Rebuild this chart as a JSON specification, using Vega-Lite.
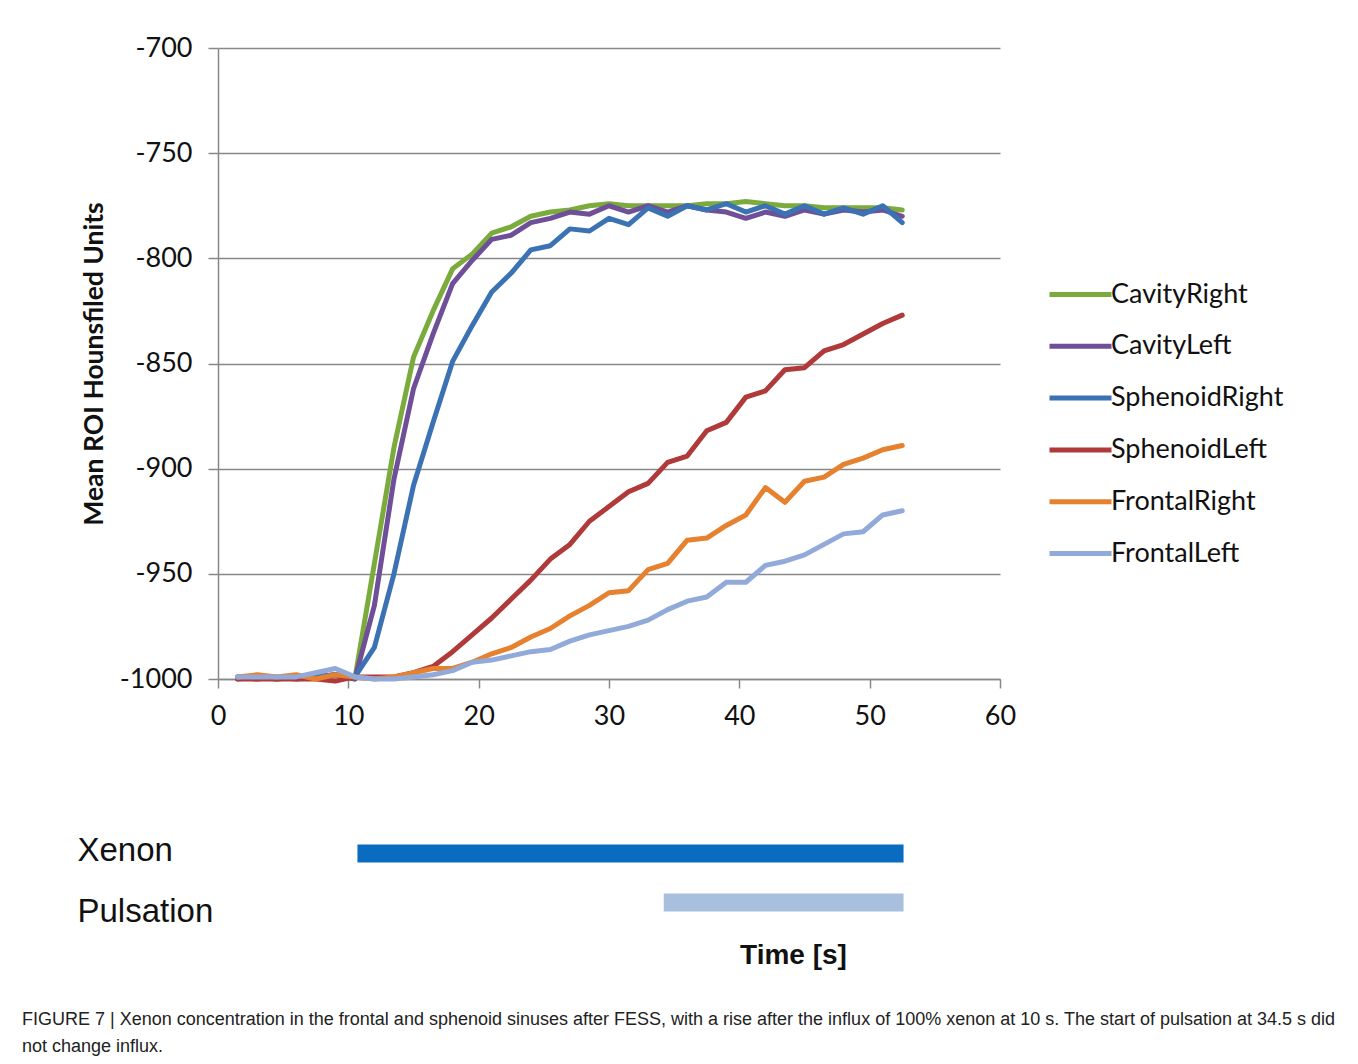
{
  "$schema": "https://vega.github.io/schema/vega-lite/v6.json",
  "background": "white",
  "padding": {"left": 22, "top": 34, "right": 10, "bottom": 10},
  "config": {"view": {"stroke": null}, "font": "Lato"},
  "title": {
    "text": ["FIGURE 7 | Xenon concentration in the frontal and sphenoid sinuses after FESS, with a rise after the influx of 100% xenon at 10 s. The start of pulsation at 34.5 s did", "not change influx."],
    "orient": "bottom",
    "anchor": "start",
    "frame": "bounds",
    "font": "Liberation Sans",
    "fontSize": 18,
    "fontWeight": "normal",
    "color": "#222222",
    "lineHeight": 27,
    "offset": 42,
    "dx": -55
  },
  "bounds": "flush",
  "spacing": 150,
  "resolve": {"scale": {"color": "independent"}, "legend": {"color": "independent"}},
  "vconcat": [
    {
      "width": 782,
      "height": 631,
      "data": {
        "values": [
          {"t": 1.5, "CavityRight": -999, "CavityLeft": -999, "SphenoidRight": -1000, "SphenoidLeft": -1000, "FrontalRight": -999, "FrontalLeft": -999},
          {"t": 3, "CavityRight": -999, "CavityLeft": -1000, "SphenoidRight": -999, "SphenoidLeft": -1000, "FrontalRight": -998, "FrontalLeft": -999},
          {"t": 4.5, "CavityRight": -1000, "CavityLeft": -999, "SphenoidRight": -1000, "SphenoidLeft": -1000, "FrontalRight": -999, "FrontalLeft": -999},
          {"t": 6, "CavityRight": -999, "CavityLeft": -1000, "SphenoidRight": -999, "SphenoidLeft": -1000, "FrontalRight": -998, "FrontalLeft": -999},
          {"t": 7.5, "CavityRight": -999, "CavityLeft": -999, "SphenoidRight": -999, "SphenoidLeft": -1000, "FrontalRight": -1000, "FrontalLeft": -997},
          {"t": 9, "CavityRight": -998, "CavityLeft": -998, "SphenoidRight": -998, "SphenoidLeft": -1001, "FrontalRight": -998, "FrontalLeft": -995},
          {"t": 10.5, "CavityRight": -1000, "CavityLeft": -1000, "SphenoidRight": -999, "SphenoidLeft": -999, "FrontalRight": -999, "FrontalLeft": -999},
          {"t": 12, "CavityRight": -945, "CavityLeft": -965, "SphenoidRight": -985, "SphenoidLeft": -999, "FrontalRight": -1000, "FrontalLeft": -1000},
          {"t": 13.5, "CavityRight": -890, "CavityLeft": -905, "SphenoidRight": -950, "SphenoidLeft": -999, "FrontalRight": -999, "FrontalLeft": -1000},
          {"t": 15, "CavityRight": -847, "CavityLeft": -862, "SphenoidRight": -908, "SphenoidLeft": -997, "FrontalRight": -997, "FrontalLeft": -999},
          {"t": 16.5, "CavityRight": -825, "CavityLeft": -836, "SphenoidRight": -878, "SphenoidLeft": -994, "FrontalRight": -995, "FrontalLeft": -998},
          {"t": 18, "CavityRight": -805, "CavityLeft": -812, "SphenoidRight": -849, "SphenoidLeft": -987, "FrontalRight": -995, "FrontalLeft": -996},
          {"t": 19.5, "CavityRight": -798, "CavityLeft": -801, "SphenoidRight": -832, "SphenoidLeft": -979, "FrontalRight": -992, "FrontalLeft": -992},
          {"t": 21, "CavityRight": -788, "CavityLeft": -791, "SphenoidRight": -816, "SphenoidLeft": -971, "FrontalRight": -988, "FrontalLeft": -991},
          {"t": 22.5, "CavityRight": -785, "CavityLeft": -789, "SphenoidRight": -807, "SphenoidLeft": -962, "FrontalRight": -985, "FrontalLeft": -989},
          {"t": 24, "CavityRight": -780, "CavityLeft": -783, "SphenoidRight": -796, "SphenoidLeft": -953, "FrontalRight": -980, "FrontalLeft": -987},
          {"t": 25.5, "CavityRight": -778, "CavityLeft": -781, "SphenoidRight": -794, "SphenoidLeft": -943, "FrontalRight": -976, "FrontalLeft": -986},
          {"t": 27, "CavityRight": -777, "CavityLeft": -778, "SphenoidRight": -786, "SphenoidLeft": -936, "FrontalRight": -970, "FrontalLeft": -982},
          {"t": 28.5, "CavityRight": -775, "CavityLeft": -779, "SphenoidRight": -787, "SphenoidLeft": -925, "FrontalRight": -965, "FrontalLeft": -979},
          {"t": 30, "CavityRight": -774, "CavityLeft": -775, "SphenoidRight": -781, "SphenoidLeft": -918, "FrontalRight": -959, "FrontalLeft": -977},
          {"t": 31.5, "CavityRight": -775, "CavityLeft": -778, "SphenoidRight": -784, "SphenoidLeft": -911, "FrontalRight": -958, "FrontalLeft": -975},
          {"t": 33, "CavityRight": -775, "CavityLeft": -775, "SphenoidRight": -776, "SphenoidLeft": -907, "FrontalRight": -948, "FrontalLeft": -972},
          {"t": 34.5, "CavityRight": -775, "CavityLeft": -778, "SphenoidRight": -780, "SphenoidLeft": -897, "FrontalRight": -945, "FrontalLeft": -967},
          {"t": 36, "CavityRight": -775, "CavityLeft": -775, "SphenoidRight": -775, "SphenoidLeft": -894, "FrontalRight": -934, "FrontalLeft": -963},
          {"t": 37.5, "CavityRight": -774, "CavityLeft": -777, "SphenoidRight": -777, "SphenoidLeft": -882, "FrontalRight": -933, "FrontalLeft": -961},
          {"t": 39, "CavityRight": -774, "CavityLeft": -778, "SphenoidRight": -774, "SphenoidLeft": -878, "FrontalRight": -927, "FrontalLeft": -954},
          {"t": 40.5, "CavityRight": -773, "CavityLeft": -781, "SphenoidRight": -778, "SphenoidLeft": -866, "FrontalRight": -922, "FrontalLeft": -954},
          {"t": 42, "CavityRight": -774, "CavityLeft": -778, "SphenoidRight": -775, "SphenoidLeft": -863, "FrontalRight": -909, "FrontalLeft": -946},
          {"t": 43.5, "CavityRight": -775, "CavityLeft": -780, "SphenoidRight": -779, "SphenoidLeft": -853, "FrontalRight": -916, "FrontalLeft": -944},
          {"t": 45, "CavityRight": -775, "CavityLeft": -777, "SphenoidRight": -775, "SphenoidLeft": -852, "FrontalRight": -906, "FrontalLeft": -941},
          {"t": 46.5, "CavityRight": -776, "CavityLeft": -779, "SphenoidRight": -779, "SphenoidLeft": -844, "FrontalRight": -904, "FrontalLeft": -936},
          {"t": 48, "CavityRight": -776, "CavityLeft": -777, "SphenoidRight": -776, "SphenoidLeft": -841, "FrontalRight": -898, "FrontalLeft": -931},
          {"t": 49.5, "CavityRight": -776, "CavityLeft": -778, "SphenoidRight": -779, "SphenoidLeft": -836, "FrontalRight": -895, "FrontalLeft": -930},
          {"t": 51, "CavityRight": -776, "CavityLeft": -777, "SphenoidRight": -775, "SphenoidLeft": -831, "FrontalRight": -891, "FrontalLeft": -922},
          {"t": 52.5, "CavityRight": -777, "CavityLeft": -780, "SphenoidRight": -783, "SphenoidLeft": -827, "FrontalRight": -889, "FrontalLeft": -920}
        ]
      },
      "transform": [
        {"fold": ["CavityRight", "CavityLeft", "SphenoidRight", "SphenoidLeft", "FrontalRight", "FrontalLeft"], "as": ["series", "value"]}
      ],
      "mark": {"type": "line", "strokeWidth": 5, "strokeJoin": "round", "strokeCap": "round"},
      "encoding": {
        "x": {
          "field": "t", "type": "quantitative",
          "scale": {"domain": [0, 60], "nice": false},
          "axis": {
            "values": [0, 10, 20, 30, 40, 50, 60],
            "grid": false, "title": null,
            "tickSize": 9, "tickWidth": 1.5, "tickColor": "#888888",
            "domainColor": "#888888", "domainWidth": 1.5,
            "labelFont": "Lato", "labelFontSize": 27, "labelColor": "#111111", "labelPadding": 15,
            "labelFlush": false, "labelOverlap": false
          }
        },
        "y": {
          "field": "value", "type": "quantitative",
          "scale": {"domain": [-1000, -700], "nice": false, "zero": false},
          "axis": {
            "values": [-1000, -950, -900, -850, -800, -750, -700],
            "labelExpr": "'' + datum.value",
            "grid": true, "gridColor": "#888888", "gridWidth": 1.5,
            "tickSize": 10, "tickWidth": 1.5, "tickColor": "#888888",
            "domainColor": "#888888", "domainWidth": 1.5,
            "labelFont": "Lato", "labelFontSize": 27, "labelColor": "#111111", "labelPadding": 16,
            "labelFlush": false, "labelOverlap": false,
            "title": "Mean ROI Hounsfiled Units",
            "titleFont": "Lato", "titleFontSize": 26.5, "titleFontWeight": "bold", "titleColor": "#111111",
            "titlePadding": 11
          }
        },
        "color": {
          "field": "series", "type": "nominal",
          "scale": {
            "domain": ["CavityRight", "CavityLeft", "SphenoidRight", "SphenoidLeft", "FrontalRight", "FrontalLeft"],
            "range": ["#7AAB3C", "#6F4F98", "#3B72B4", "#B0393A", "#E6812F", "#92AADA"]
          },
          "legend": {
            "orient": "none", "legendX": 829, "legendY": 213,
            "title": null,
            "symbolType": "stroke", "symbolSize": 3844, "symbolStrokeWidth": 5,
            "labelFont": "Lato", "labelFontSize": 27, "labelColor": "#111111",
            "labelOffset": -3, "labelLimit": 400, "rowPadding": 4.8
          }
        }
      }
    },
    {
      "width": 782,
      "height": 98,
      "data": {
        "values": [
          {"phase": "Xenon", "start": 10.7, "end": 52.6},
          {"phase": "Pulsation", "start": 34.2, "end": 52.6}
        ]
      },
      "mark": {"type": "bar", "size": 18},
      "encoding": {
        "y": {
          "field": "phase", "type": "nominal", "sort": ["Xenon", "Pulsation"],
          "axis": {
            "title": null, "domain": false, "ticks": false,
            "labelAlign": "left", "labelPadding": 141,
            "labelFont": "Liberation Sans", "labelFontSize": 33, "labelColor": "#111111",
            "labelOffset": {"condition": {"test": "datum.value === 'Pulsation'", "value": 9}, "value": -3}
          }
        },
        "x": {
          "field": "start", "type": "quantitative",
          "scale": {"domain": [0, 60], "nice": false},
          "axis": {
            "labels": false, "ticks": false, "domain": false, "grid": false,
            "title": "Time [s]", "titleFont": "Liberation Sans", "titleFontSize": 28, "titleFontWeight": "bold",
            "titleColor": "#111111", "titleX": 575, "titlePadding": 14
          }
        },
        "x2": {"field": "end"},
        "color": {
          "field": "phase", "type": "nominal",
          "scale": {"domain": ["Xenon", "Pulsation"], "range": ["#0A6CC0", "#A8C0DE"]},
          "legend": null
        }
      }
    }
  ]
}
